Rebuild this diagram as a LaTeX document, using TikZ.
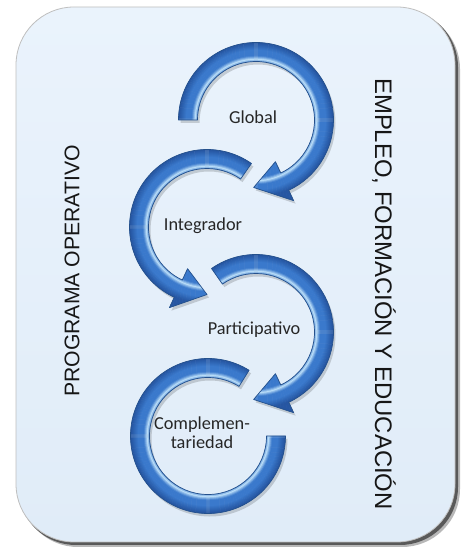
\documentclass[tikz,border=0pt]{standalone}
\usepackage{fontspec}
\setmainfont{Carlito}
\newfontfamily\sidefont{Liberation Sans}
\definecolor{panelA}{HTML}{EAF3FC}
\definecolor{panelB}{HTML}{E0ECF8}
\definecolor{bmid}{HTML}{3A79CC}
\definecolor{bdark}{HTML}{22509A}
\definecolor{bhl}{HTML}{B8DCF8}
\definecolor{bline}{HTML}{25518C}
\definecolor{txt}{HTML}{262626}
\definecolor{sidetxt}{HTML}{161616}
\newcommand{\ArrowPath}[3]{(#1:77.5) arc[start angle=#1, end angle=#2, radius=77.5] -- (#2:89) -- (#3:67.5) -- (#2:46) -- (#2:58.5) arc[start angle=#2, end angle=#1, radius=58.5] -- cycle}
\newcommand{\PlainPath}[2]{(#1:77.5) arc[start angle=#1, end angle=#2, radius=77.5] -- (#2:58.5) arc[start angle=#2, end angle=#1, radius=58.5] -- cycle}
\newcommand{\ShadedArrow}[2]{%
  \begin{scope}[shift={(#1)}]
    \fill[black, opacity=0.16, shift={(2,-3)}] #2;
    \begin{scope}
      \clip #2;
      \foreach \r in {44,...,90}{%
        \pgfmathsetmacro\hh{100*max(0,1-abs(\r-61)/3.5)}%
        \pgfmathsetmacro\dd{85*min(1,max(0,(\r-70)/7))}%
        \colorlet{ringtmp}{bdark!\dd!bmid}%
        \draw[line width=1.4, color=bhl!\hh!ringtmp] (0,0) circle[radius=\r];
      }
    \end{scope}
    \draw[bline, line width=0.7, line join=round] #2;
  \end{scope}}
\tikzset{
  lab/.style={font=\fontsize{18.3}{19}\selectfont, text=txt, inner sep=0pt, align=center},
  side/.style={font=\sidefont, text=sidetxt, inner sep=0pt}
}
\begin{document}
\begin{tikzpicture}[x=1pt, y=1pt]
\useasboundingbox (0,0) rectangle (461,549);
\fill[white] (0,0) rectangle (461,549);
% panel shadow and panel
\fill[black!55, opacity=0.5, rounded corners=58] (20,2) rectangle (460,538);
\fill[black!65, rounded corners=58] (18,4) rectangle (458,540);
\shade[top color=panelA, bottom color=panelB, rounded corners=58, draw=black!25, line width=0.8] (16,7) rectangle (455,542);
% centres of the circular arrows
\coordinate (c1) at (256,429);
\coordinate (c2) at (207,322);
\coordinate (c3) at (256,217);
\coordinate (c4) at (208,113);
% arrows, bottom first so that each arrowhead lies over the next arc
\ShadedArrow{c4}{\PlainPath{58}{360}}
\ShadedArrow{c3}{\ArrowPath{125}{-65}{-92}}
\ShadedArrow{c2}{\ArrowPath{55}{245}{270}}
\ShadedArrow{c1}{\ArrowPath{180}{-65}{-92}}
% labels
\node[lab] (global) at (253,432) {Global};
\node[lab] (integ) at (203,323) {Integrador};
\node[lab] (partic) at (254,219) {Participativo};
\node[lab] (compl) at (202,116) {Complemen-\\[0pt]tariedad};
\node[side, rotate=90, font=\sidefont\fontsize{21.2}{24}\selectfont] (left) at (72,278) {PROGRAMA OPERATIVO};
\node[side, rotate=-90, font=\sidefont\fontsize{23.9}{26}\selectfont] (right) at (384,255) {EMPLEO, FORMACIÓN Y EDUCACIÓN};
\end{tikzpicture}
\end{document}
